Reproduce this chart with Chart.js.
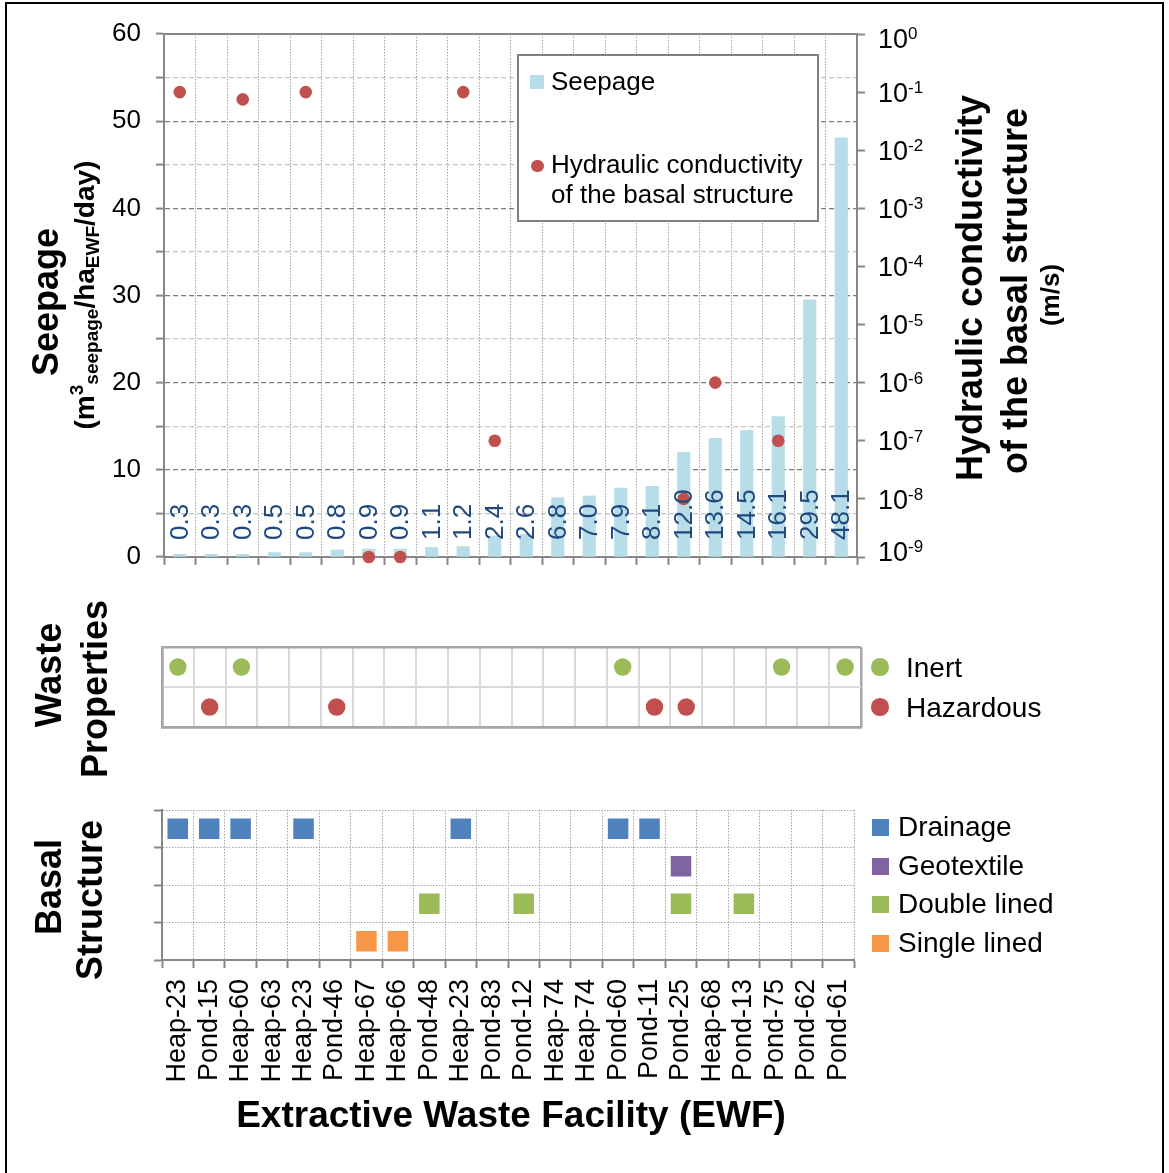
<!DOCTYPE html>
<html>
<head>
<meta charset="utf-8">
<script src="https://cdn.jsdelivr.net/npm/chart.js@4.4.0/dist/chart.umd.min.js"></script>
<style>
  html, body { margin: 0; padding: 0; background: #fff; }
  body { width: 1169px; height: 1173px; position: relative; overflow: hidden;
         font-family: 'Liberation Sans', Arial, Helvetica, sans-serif; color: #000; }
  canvas { position: absolute; left: 0; }
  .frame { position: absolute; left: 5px; top: 2px; width: 1155px; height: 1172px;
           border: 2px solid #000; pointer-events: none; }
  .rot { position: absolute; transform-origin: 0 0; transform: rotate(-90deg);
         text-align: center; white-space: nowrap; }
  .txt { position: absolute; white-space: nowrap; }
  .txt span, .rot span { line-height: 1; }
  .box { position: absolute; box-sizing: border-box; }
</style>
</head>
<body>
<canvas id="seepChart" width="1169" height="580" style="top:0px"></canvas>
<canvas id="wasteChart" width="1169" height="130" style="top:620px"></canvas>
<canvas id="basalChart" width="1169" height="300" style="top:790px"></canvas>
<div class="frame"></div>

<script>
// ---- data ----------------------------------------------------------------
const facilities = ['Heap-23', 'Pond-15', 'Heap-60', 'Heap-63', 'Heap-23', 'Pond-46',
  'Heap-67', 'Heap-66', 'Pond-48', 'Heap-23', 'Pond-83', 'Pond-12', 'Heap-74', 'Heap-74',
  'Pond-60', 'Pond-11', 'Pond-25', 'Heap-68', 'Pond-13', 'Pond-75', 'Pond-62', 'Pond-61'];

// seepage, m3 seepage / ha EWF / day
const seepage = [0.3, 0.3, 0.3, 0.5, 0.5, 0.8, 0.9, 0.9, 1.1, 1.2, 2.4, 2.6,
  6.8, 7.0, 7.9, 8.1, 12.0, 13.6, 14.5, 16.1, 29.5, 48.1];

// hydraulic conductivity of the basal structure, m/s (null = not reported)
const conductivity = [1e-1, null, 7.5e-2, null, 1e-1, null, 1e-9, 1e-9, null, 1e-1, 1e-7,
  null, null, null, null, null, 1e-8, 1e-6, null, 1e-7, null, null];

// waste classification per facility
const wasteType = ['Inert', 'Hazardous', 'Inert', null, null, 'Hazardous', null, null,
  null, null, null, null, null, null, 'Inert', 'Hazardous', 'Hazardous', null, null,
  'Inert', null, 'Inert'];

// basal structure: facility positions carrying each type
const drainageAt = [0, 1, 2, 4, 9, 14, 15];
const geotextileAt = [16];
const doubleLinedAt = [8, 11, 16, 18];
const singleLinedAt = [6, 7];

const wasteRows = ['Inert', 'Hazardous'];
const basalRows = ['Drainage', 'Geotextile', 'Double lined', 'Single lined'];

const seepageTicks = [0, 10, 20, 30, 40, 50, 60];
const conductivityExponents = [0, -1, -2, -3, -4, -5, -6, -7, -8, -9];

// ---- styling -------------------------------------------------------------
const FONT = "'Liberation Sans', Arial, Helvetica, sans-serif";
const AXIS = '#878787';
const DOTTED = '#a4a4a4';
const C_SEEP = '#b7dde8';
const C_COND = '#c0504d';
const C_INERT = '#9bbb59';
const C_HAZ = '#c0504d';
const C_BASAL = { 'Drainage': '#4f81bd', 'Geotextile': '#8064a2',
                  'Double lined': '#9bbb59', 'Single lined': '#f79646' };

Chart.defaults.font.family = FONT;
Chart.defaults.color = '#000';
Chart.defaults.animation = false;
Chart.defaults.responsive = false;
Chart.defaults.plugins.legend.display = false;
Chart.defaults.plugins.tooltip.enabled = false;

const fixWidth = w => s => { s.width = w; s.paddingTop = 0; s.paddingBottom = 0; };
const fixHeight = h => s => { s.height = h; s.paddingLeft = 0; s.paddingRight = 0; };
const isEdge = c => c.type !== 'tick' || c.index === 0;

// ---- top panel: seepage bars + conductivity points ---------------------
const barValueLabels = {
  id: 'barValueLabels',
  afterDatasetsDraw(chart) {
    const meta = chart.getDatasetMeta(0);
    const ctx = chart.ctx;
    const yStart = chart.chartArea.bottom - 17;
    ctx.save();
    ctx.font = '26px ' + FONT;
    ctx.fillStyle = '#1f497d';
    ctx.textAlign = 'left';
    ctx.textBaseline = 'middle';
    meta.data.forEach((bar, i) => {
      ctx.save();
      ctx.translate(bar.x, yStart);
      ctx.rotate(-Math.PI / 2);
      ctx.fillText(seepage[i].toFixed(1), 0, 1);
      ctx.restore();
    });
    ctx.restore();
  }
};

const powerLabels = {
  id: 'powerLabels',
  afterDraw(chart) {
    const s = chart.scales.y2;
    const ctx = chart.ctx;
    ctx.save();
    ctx.fillStyle = '#000';
    ctx.textAlign = 'left';
    ctx.textBaseline = 'alphabetic';
    s.ticks.forEach(t => {
      const exp = Math.round(Math.log10(t.value));
      let y = s.getPixelForValue(t.value);
      y = Math.min(Math.max(y, s.top + 4), s.bottom - 6);
      const x = s.left + 21;
      ctx.font = '27px ' + FONT;
      ctx.fillText('10', x, y + 9.7);
      const w = ctx.measureText('10').width;
      ctx.font = '17px ' + FONT;
      ctx.fillText(String(exp), x + w, y + 1);
    });
    ctx.restore();
  }
};

new Chart(document.getElementById('seepChart'), {
  type: 'bar',
  data: {
    labels: facilities,
    datasets: [
      { type: 'bar', label: 'Seepage', data: seepage, yAxisID: 'y', xAxisID: 'x',
        backgroundColor: C_SEEP, barThickness: 12.5, order: 2 },
      { type: 'line', label: 'Hydraulic conductivity of the basal structure',
        data: conductivity, yAxisID: 'y2', xAxisID: 'x', showLine: false,
        pointRadius: 6.3, pointBackgroundColor: C_COND, pointBorderWidth: 0,
        borderColor: C_COND, clip: false, order: 1 }
    ]
  },
  options: {
    layout: { padding: { top: 34, left: 0, right: 0, bottom: 0 } },
    scales: {
      x: {
        type: 'category', offset: true,
        grid: { offset: true, color: DOTTED, lineWidth: 1, drawTicks: true,
                tickLength: 8, tickColor: AXIS, tickWidth: 2, tickBorderDash: [] },
        border: { display: true, color: AXIS, width: 2, dash: [1.5, 1.5] },
        ticks: { display: false },
        afterFit: fixHeight(23)
      },
      xTop: {
        type: 'category', position: 'top', offset: true, display: true,
        grid: { display: false, drawTicks: false },
        border: { display: true, color: AXIS, width: 2 },
        ticks: { display: false },
        afterFit: fixHeight(0)
      },
      y: {
        type: 'linear', position: 'left', min: 0, max: 60,
        ticks: { stepSize: 5, padding: 15, font: { size: 26 },
                 callback: v => seepageTicks.includes(v) ? String(v) : '' },
        grid: {
          color: c => {
            const v = c.tick ? c.tick.value : 0;
            if (v === 0 || v === 60) return 'rgba(0,0,0,0)';
            return v % 10 === 0 ? '#7d7d7d' : '#c4c4c4';
          },
          lineWidth: 1.2, tickLength: 8, tickColor: AXIS, tickWidth: 2, tickBorderDash: []
        },
        border: { display: true, color: AXIS, width: 2, dash: [5, 3] },
        afterFit: fixWidth(164)
      },
      y2: {
        type: 'logarithmic', position: 'right', min: 1e-9, max: 1,
        afterBuildTicks: s => { s.ticks = conductivityExponents.map(e => ({ value: Math.pow(10, e) })); },
        ticks: { display: false },
        grid: { drawOnChartArea: false, drawTicks: true, tickLength: 8,
                tickColor: AXIS, tickWidth: 2 },
        border: { display: true, color: AXIS, width: 2 },
        afterFit: fixWidth(312)
      }
    }
  },
  plugins: [barValueLabels, powerLabels]
});

// ---- middle panel: waste properties --------------------------------------
const wasteColors = { 'Inert': C_INERT, 'Hazardous': C_HAZ };
new Chart(document.getElementById('wasteChart'), {
  type: 'line',
  data: {
    labels: facilities,
    datasets: wasteRows.map(row => ({
      label: row,
      data: wasteType.map(w => (w === row ? row : null)),
      showLine: false, pointStyle: 'circle', pointRadius: 8.7,
      pointBackgroundColor: wasteColors[row], pointBorderWidth: 0, borderColor: wasteColors[row]
    }))
  },
  options: {
    layout: { padding: { top: 27, right: 308, left: 0, bottom: 0 } },
    scales: {
      x: {
        type: 'category', offset: true,
        grid: { offset: true, drawTicks: false,
                color: c => (isEdge(c) ? '#a6a6a6' : '#d9d9d9'),
                lineWidth: c => (isEdge(c) ? 2.5 : 2) },
        border: { display: true, color: '#a6a6a6', width: 2.5 },
        ticks: { display: false },
        afterFit: fixHeight(23)
      },
      y: {
        type: 'category', labels: wasteRows, offset: true,
        grid: { offset: true, drawTicks: false,
                color: c => (isEdge(c) ? '#a6a6a6' : '#d9d9d9'),
                lineWidth: c => (isEdge(c) ? 2.5 : 2) },
        border: { display: true, color: '#a6a6a6', width: 2.5 },
        ticks: { display: false },
        afterFit: fixWidth(162)
      }
    }
  }
});

// ---- bottom panel: basal structure --------------------------------------
const basalAt = { 'Drainage': drainageAt, 'Geotextile': geotextileAt,
                  'Double lined': doubleLinedAt, 'Single lined': singleLinedAt };
new Chart(document.getElementById('basalChart'), {
  type: 'line',
  data: {
    labels: facilities,
    datasets: basalRows.map(row => ({
      label: row,
      data: facilities.map((_, i) => (basalAt[row].includes(i) ? row : null)),
      showLine: false, pointStyle: 'rect', pointRadius: 14.5,
      pointBackgroundColor: C_BASAL[row], pointBorderWidth: 0, borderColor: C_BASAL[row]
    }))
  },
  options: {
    layout: { padding: { top: 20, right: 315, left: 0, bottom: 0 } },
    scales: {
      x: {
        type: 'category', offset: true,
        grid: { offset: true, color: DOTTED, lineWidth: 1, tickLength: 8,
                tickColor: AXIS, tickWidth: 2, tickBorderDash: [] },
        border: { display: true, color: AXIS, width: 2, dash: [1.5, 1.5] },
        ticks: { autoSkip: false, minRotation: 90, maxRotation: 90, padding: 11,
                 font: { size: 27 } },
        afterFit: fixHeight(130)
      },
      y: {
        type: 'category', labels: basalRows, offset: true,
        grid: { offset: true, color: DOTTED, lineWidth: 1, tickLength: 8,
                tickColor: AXIS, tickWidth: 2, tickBorderDash: [] },
        border: { display: true, color: AXIS, width: 2, dash: [1.5, 1.5] },
        ticks: { display: false },
        afterFit: fixWidth(162)
      }
    }
  }
});

// ---- titles and legends --------------------------------------------------
const ASC = 0.8465; // baseline offset (em) for a line-height of 1

function rotText(html, baselineX, centerY, size, bold) {
  const W = 600;
  const d = document.createElement('div');
  d.className = 'rot';
  d.style.font = (bold ? 'bold ' : '') + size + 'px ' + FONT;
  d.style.lineHeight = size + 'px';
  d.style.width = W + 'px';
  d.style.left = (baselineX - ASC * size) + 'px';
  d.style.top = (centerY + W / 2) + 'px';
  d.innerHTML = html;
  document.body.appendChild(d);
}

function hText(html, left, baselineY, size, bold, width, align) {
  const d = document.createElement('div');
  d.className = 'txt';
  d.style.font = (bold ? 'bold ' : '') + size + 'px ' + FONT;
  d.style.lineHeight = size + 'px';
  d.style.left = left + 'px';
  d.style.top = (baselineY - ASC * size) + 'px';
  if (width) { d.style.width = width + 'px'; d.style.textAlign = align || 'left'; }
  d.innerHTML = html;
  document.body.appendChild(d);
}

function box(left, top, w, h, css) {
  const d = document.createElement('div');
  d.className = 'box';
  Object.assign(d.style, { left: left + 'px', top: top + 'px', width: w + 'px', height: h + 'px' }, css);
  document.body.appendChild(d);
}

// axis titles
rotText('Seepage', 58.5, 302, 36, true);
rotText('(m<span style="font-size:19px;position:relative;top:-11px">3</span>' +
        '<span style="font-size:19px;position:relative;top:4px">seepage</span>/ha' +
        '<span style="font-size:19px;position:relative;top:5px">EWF</span>/day)', 95, 295, 28, true);
rotText('Hydraulic conductivity', 982, 288, 36, true);
rotText('of the basal structure', 1027, 291, 36, true);
rotText('(m/s)', 1059, 295, 26, true);
rotText('Waste', 61, 675, 36, true);
rotText('Properties', 107.5, 689, 36, true);
rotText('Basal', 61, 887, 36, true);
rotText('Structure', 102.5, 900, 36, true);
hText('Extractive Waste Facility (EWF)', 111, 1127, 37, true, 800, 'center');

// seepage / conductivity legend
box(517, 54, 302, 168, { border: '2px solid #808080', background: '#fff' });
box(530, 75, 14, 14, { background: C_SEEP });
hText('Seepage', 551, 90, 26, false);
box(531, 159.5, 12.6, 12.6, { background: C_COND, borderRadius: '50%' });
hText('Hydraulic conductivity', 551, 173, 26, false);
hText('of the basal structure', 551, 203, 26, false);

// waste legend
box(871.3, 658.3, 17.4, 17.4, { background: C_INERT, borderRadius: '50%' });
hText('Inert', 906, 678, 28, false);
box(871.3, 698.3, 17.4, 17.4, { background: C_HAZ, borderRadius: '50%' });
hText('Hazardous', 906, 718, 28, false);

// basal legend
const basalLegendTop = [819, 858, 896, 935];
const basalLegendBase = [836.5, 875.5, 914, 952.5];
basalRows.forEach((row, i) => {
  box(872, basalLegendTop[i], 17, 17, { background: C_BASAL[row] });
  hText(row, 898, basalLegendBase[i], 28, false);
});
</script>
</body>
</html>
